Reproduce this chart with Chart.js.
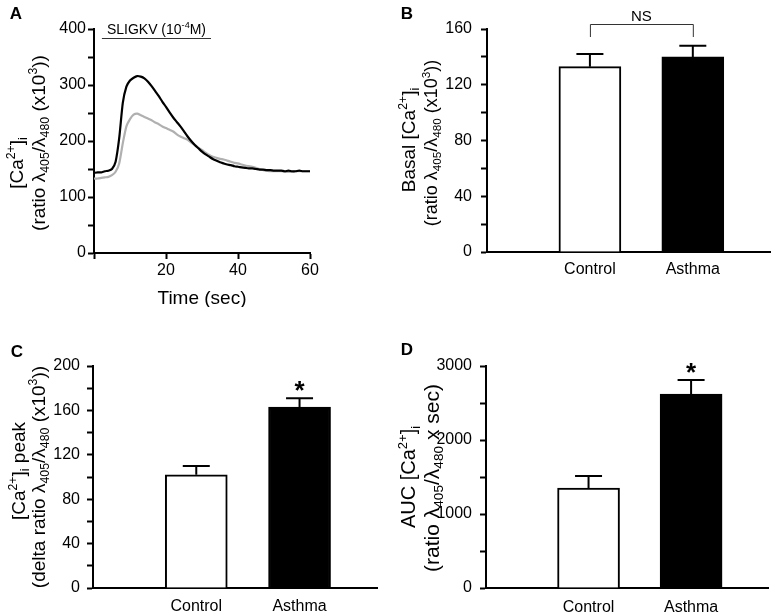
<!DOCTYPE html>
<html>
<head>
<meta charset="utf-8">
<title>SLIGKV-induced calcium response</title>
<script src="https://cdn.jsdelivr.net/npm/chart.js@4.4.1/dist/chart.umd.min.js"></script>
<style>
    html, body { margin: 0; padding: 0; background: #fff; }
    #figure { position: relative; width: 774px; height: 615px; }
    #figure canvas { position: absolute; }
</style>
</head>
<body>
<div id="figure">
    <canvas id="panelA" width="387" height="307" style="left:0;top:0"></canvas>
    <canvas id="panelB" width="387" height="307" style="left:387px;top:0"></canvas>
    <canvas id="panelC" width="387" height="308" style="left:0;top:307px"></canvas>
    <canvas id="panelD" width="387" height="308" style="left:387px;top:307px"></canvas>
</div>
<script>
// Panel A: time course (sec) of the ratio, asthma = black, control = grey
const timeSec = [0, 1, 2, 3, 4, 5, 6, 7, 8, 9, 10, 11, 12, 13, 14, 15, 16, 17, 18, 19, 20,
    21, 22, 23, 24, 25, 26, 27, 28, 29, 30, 31, 32, 33, 34, 35, 36, 37, 38, 39, 40,
    41, 42, 43, 44, 45, 46, 47, 48, 49, 50, 51, 52, 53, 54, 55, 56, 57, 58, 59, 60];
const asthmaTrace = [143, 144, 144, 146, 147, 150, 163, 205, 268, 297, 308, 313, 316, 315, 312, 306, 298, 289, 280, 270, 261,
    251, 242, 234, 226, 217, 208, 200, 193, 187, 181, 176, 172, 168, 165, 162, 160, 158, 157, 155, 154,
    153, 152, 151, 151, 150, 149, 149, 148, 148, 147, 147, 147, 146, 147, 146, 146, 147, 146, 146, 146];
const controlTrace = [133, 133, 134, 135, 136, 139, 145, 160, 196, 226, 239, 247, 249, 246, 243, 240, 237, 233, 230, 226, 223,
    220, 217, 212, 208, 205, 202, 197, 193, 188, 184, 179, 175, 172, 170, 168, 167, 165, 163, 161, 160,
    158, 156, 155, 154, 152, 150, 148, 147, 146, 146, 146, 146, 145, 145, 145, 146, 146, 146, 146, 146];
const stimWindow = [2.2, 32.5];

// Panels B-D: mean and SEM per group
const groups = ['Control', 'Asthma'];
const basalMean = [133, 140];
const basalSem = [9, 8];
const peakMean = [102, 163];
const peakSem = [8, 8];
const aucMean = [1350, 2620];
const aucSem = [165, 190];

const FONT = '"Liberation Sans", Arial, sans-serif';
Chart.defaults.font.family = FONT;
Chart.defaults.color = '#000';

// Turn 'a^{2+}_{i}' into segments with super/subscripts
function parseRich(str) {
    const segs = [];
    const re = /([\^_])\{([^}]*)\}/g;
    let last = 0, m;
    while ((m = re.exec(str)) !== null) {
        if (m.index > last) segs.push({ t: str.slice(last, m.index) });
        segs.push({ t: m[2], sup: m[1] === '^', sub: m[1] === '_' });
        last = re.lastIndex;
    }
    if (last < str.length) segs.push({ t: str.slice(last) });
    return segs;
}

function drawRich(ctx, str, cx, cy, size, rotate, bold) {
    const segs = parseRich(str);
    const fontFor = s => (bold ? 'bold ' : '') + ((s.sup || s.sub) ? size * 0.65 : size) + 'px ' + FONT;
    let w = 0;
    segs.forEach(s => { ctx.font = fontFor(s); w += ctx.measureText(s.t).width; });
    ctx.save();
    ctx.translate(cx, cy);
    if (rotate) ctx.rotate(-Math.PI / 2);
    ctx.fillStyle = '#000';
    ctx.textAlign = 'left';
    ctx.textBaseline = 'alphabetic';
    let x = -w / 2;
    const base = size * 0.36;
    segs.forEach(s => {
        ctx.font = fontFor(s);
        let dy = 0;
        if (s.sup) dy = -size * 0.42;
        if (s.sub) dy = size * 0.22;
        ctx.fillText(s.t, x, base + dy);
        x += ctx.measureText(s.t).width;
    });
    ctx.restore();
}

// Panel letter, axis titles and extras
function decor(spec) {
    return {
        id: 'decor',
        afterDraw(chart) {
            const ctx = chart.ctx;
            drawRich(ctx, spec.letter, spec.letterXY[0], spec.letterXY[1], 17, false, true);
            spec.titles.forEach(t => drawRich(ctx, t.text, t.x, t.y, t.size, true));
            if (spec.extra) spec.extra(chart, ctx);
        }
    };
}

function yAxis(max, step, labelStep, pad, width) {
    return {
        min: 0, max: max,
        grid: { drawOnChartArea: false, tickLength: 6, tickWidth: 2, tickColor: '#000' },
        border: { color: '#000', width: 2 },
        ticks: {
            stepSize: step, autoSkip: false, padding: pad,
            font: { size: 16 }, color: '#000',
            callback: v => (v % labelStep === 0 ? v : '')
        },
        afterFit: s => { s.width = width; }
    };
}

// Panel A
function drawTimeCourse() {
    const ctx = document.getElementById('panelA');
    new Chart(ctx, {
        type: 'line',
        data: {
            datasets: [{
                data: timeSec.map((t, i) => ({ x: t, y: asthmaTrace[i] })),
                borderColor: '#000', borderWidth: 2.2, pointRadius: 0, tension: 0.2
            }, {
                data: timeSec.map((t, i) => ({ x: t, y: controlTrace[i] })),
                borderColor: '#b0b0b0', borderWidth: 2.2, pointRadius: 0, tension: 0.2
            }]
        },
        options: {
            responsive: false, animation: false, devicePixelRatio: 1,
            layout: { padding: { left: 0, top: 29, right: 77, bottom: 0 } },
            plugins: { legend: { display: false }, tooltip: { enabled: false } },
            scales: {
                x: {
                    type: 'linear', min: 0, max: 60,
                    grid: { drawOnChartArea: false, tickLength: 6, tickWidth: 2, tickColor: '#000' },
                    border: { color: '#000', width: 2 },
                    ticks: { stepSize: 20, padding: 2, font: { size: 16 }, color: '#000', maxRotation: 0,
                        callback: v => (v === 0 ? '' : v) },
                    afterFit: s => { s.height = 54; }
                },
                y: yAxis(400, 50, 100, 2, 94)
            }
        },
        plugins: [decor({
            letter: 'A', letterXY: [16, 13],
            titles: [
                { text: '[Ca^{2+}]_{i}', x: 16, y: 163, size: 19 },
                { text: '(ratio λ_{405}/λ_{480} (x10^{3}))', x: 38, y: 143, size: 19 }
            ],
            extra(chart, c) {
                const xs = chart.scales.x, area = chart.chartArea;
                const x0 = xs.getPixelForValue(stimWindow[0]);
                const x1 = xs.getPixelForValue(stimWindow[1]);
                c.save();
                c.strokeStyle = '#333';
                c.lineWidth = 1;
                c.beginPath();
                c.moveTo(x0, area.top + 9.5);
                c.lineTo(x1, area.top + 9.5);
                c.stroke();
                c.restore();
                drawRich(c, 'SLIGKV (10^{-4}M)', (x0 + x1) / 2, area.top, 14, false);
                drawRich(c, 'Time (sec)', (area.left + area.right) / 2, 297, 19, false);
            }
        })]
    });
}

// Panels B-D
function drawBarPanel(id, means, sems, yMax, step, labelStep, spec) {
    const errorBars = {
        id: 'errorBars',
        afterDatasetsDraw(chart) {
            const c = chart.ctx, ys = chart.scales.y;
            const bars = chart.getDatasetMeta(0).data;
            c.save();
            c.strokeStyle = '#000';
            c.lineWidth = 2;
            bars.forEach((bar, i) => {
                const top = ys.getPixelForValue(means[i] + sems[i]);
                c.beginPath();
                c.moveTo(bar.x, bar.y);
                c.lineTo(bar.x, top);
                c.moveTo(bar.x - 13.5, top);
                c.lineTo(bar.x + 13.5, top);
                c.stroke();
                if (spec.stars && spec.stars[i]) {
                    c.font = 'bold 26px ' + FONT;
                    c.textAlign = 'center';
                    c.textBaseline = 'alphabetic';
                    c.fillStyle = '#000';
                    c.fillText('*', bar.x, top + 1);
                }
            });
            c.restore();
        }
    };

    new Chart(document.getElementById(id), {
        type: 'bar',
        data: {
            datasets: [{
                data: groups.map((g, i) => ({ x: i + 1, y: means[i] })),
                backgroundColor: ['#ffffff', '#000000'],
                borderColor: '#000000',
                borderWidth: 2,
                barThickness: 62
            }]
        },
        options: {
            responsive: false, animation: false, devicePixelRatio: 1,
            layout: { padding: spec.padding },
            plugins: { legend: { display: false }, tooltip: { enabled: false } },
            scales: {
                x: {
                    type: 'linear', min: 0, max: 2.75, offset: false,
                    grid: { display: false, drawTicks: false, offset: false },
                    border: { color: '#000', width: 2 },
                    afterBuildTicks: s => { s.ticks = groups.map((g, i) => ({ value: i + 1 })); },
                    ticks: { padding: spec.xPad, font: { size: 16 }, color: '#000', autoSkip: false, maxRotation: 0,
                        callback: v => groups[v - 1] },
                    afterFit: s => { s.height = spec.xHeight; }
                },
                y: yAxis(yMax, step, labelStep, spec.yPad, spec.yWidth)
            }
        },
        plugins: [errorBars, decor(spec)]
    });
}

drawTimeCourse();

drawBarPanel('panelB', basalMean, basalSem, 160, 20, 40, {
    padding: { left: 0, top: 29, right: 4, bottom: 0 }, xHeight: 55, xPad: 8, yPad: 9, yWidth: 100,
    letter: 'B', letterXY: [20, 13],
    titles: [
        { text: 'Basal [Ca^{2+}]_{i}', x: 21, y: 140, size: 19 },
        { text: '(ratio λ_{405}/λ_{480} (x10^{3}))', x: 44, y: 143, size: 18 }
    ],
    extra(chart, c) {
        const xs = chart.scales.x, top = chart.chartArea.top;
        const x0 = xs.getPixelForValue(1), x1 = xs.getPixelForValue(2);
        c.save();
        c.strokeStyle = '#333';
        c.lineWidth = 1;
        c.beginPath();
        c.moveTo(x0 + 0.5, top + 8);
        c.lineTo(x0 + 0.5, top - 4.5);
        c.lineTo(x1 + 0.5, top - 4.5);
        c.lineTo(x1 + 0.5, top + 8);
        c.stroke();
        c.restore();
        drawRich(c, 'NS', (x0 + x1) / 2, top - 13, 15, false);
    }
});

drawBarPanel('panelC', peakMean, peakSem, 200, 20, 40, {
    padding: { left: 0, top: 59, right: 10, bottom: 0 }, xHeight: 27, xPad: 9, yPad: 7, yWidth: 93,
    letter: 'C', letterXY: [17, 44], stars: [false, true],
    titles: [
        { text: '[Ca^{2+}]_{i} peak', x: 18, y: 164, size: 19 },
        { text: '(delta ratio λ_{405}/λ_{480} (x10^{3}))', x: 38, y: 170, size: 19 }
    ]
});

drawBarPanel('panelD', aucMean, aucSem, 3000, 500, 1000, {
    padding: { left: 0, top: 59, right: 6, bottom: 0 }, xHeight: 27, xPad: 10, yPad: 8, yWidth: 99,
    letter: 'D', letterXY: [20, 42], stars: [false, true],
    titles: [
        { text: 'AUC [Ca^{2+}]_{i}', x: 21, y: 170, size: 20 },
        { text: '(ratio λ_{405}/λ_{480} x sec)', x: 44, y: 171, size: 21 }
    ]
});
</script>
</body>
</html>
